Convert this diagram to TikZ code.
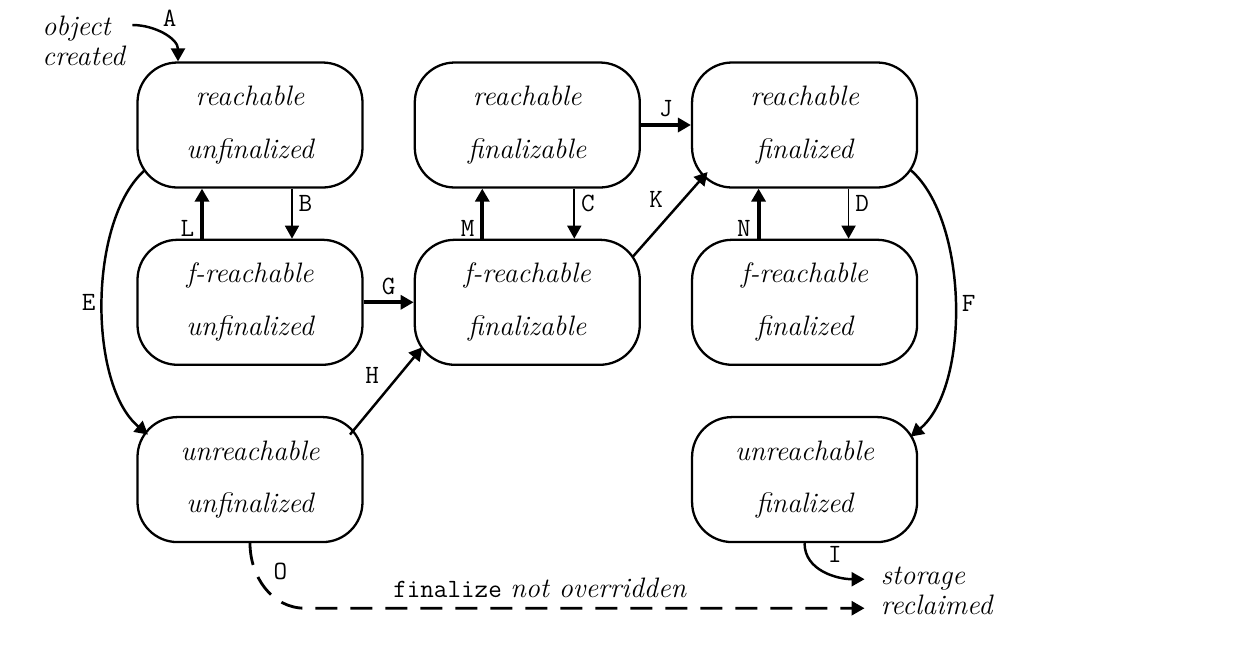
\documentclass[tikz,border=0pt]{standalone}
\usepackage{tikz}
\usetikzlibrary{arrows,arrows.meta,calc,
                shapes,positioning}

\begin{document}
\begin{tikzpicture}
  \tikzset{state/.style = {shape = rectangle, rounded corners = 8mm, minimum width = 45mm, minimum height = 25mm, draw = black, line width = 1.3pt, align = center, font = \itshape\fontsize{16}{30}\selectfont}}
  \tikzset{link/.style = {-{Triangle[length = 2.6mm, width = 2.8mm]}}}
  \tikzset{strong/.style = {link, line width = 2.2pt}}
  \tikzset{weak/.style = {link, line width = 1pt}}
  \tikzset{curve/.style = {link, line width = 1.4pt}}
  \tikzset{dashline/.style = {link, line width = 1.6pt, dash pattern = on 4.4mm off 2.6mm}}
  \tikzset{tag/.style = {font = \ttfamily\fontsize{15}{17}\selectfont}}
  \tikzset{note/.style = {inner sep = 0pt, align = left, font = \itshape\fontsize{16}{17}\selectfont}}

  \fill[white] (0,0) rectangle (24.84,-12.92);

  % the eight states
  \node[state] (RU) at (5.0,-2.5) {reachable\\unfinalized};
  \node[state, below = 1cm of RU] (FU) {f-reachable\\unfinalized};
  \node[state, below = 1cm of FU] (UU) {unreachable\\unfinalized};
  \node[state, right = 1cm of RU] (RZ) {reachable\\finalizable};
  \node[state, below = 1cm of RZ] (FZ) {f-reachable\\finalizable};
  \node[state, right = 1cm of RZ] (RF) {reachable\\finalized};
  \node[state, below = 1cm of RF] (FF) {f-reachable\\finalized};
  \node[state, below = 1cm of FF] (UF) {unreachable\\finalized};

  % start and end
  \node[note, anchor = west] (created) at (0.84,-0.82) {object\\created};
  \node[note, anchor = west] (reclaimed) at ([shift = {(1.52,-0.96)}]UF.south) {storage\\reclaimed};
  \coordinate (turn) at ([shift = {(1.1,-1.3)}]UU.south);

  % transitions
  \draw[curve] ([shift = {(0.14,0.32)}]created.east) to[out = 0, in = 90]
    node[tag, pos = 0.4, above right = -2pt] {A} ([xshift = -1.44cm]RU.north);
  \draw[weak] ([xshift = 0.84cm]RU.south) -- ([xshift = 0.84cm]FU.north) node[tag, pos = 0.3, right] {B};
  \draw[strong] ([xshift = -0.96cm]FU.north) -- ([xshift = -0.96cm]RU.south) node[tag, pos = 0.2, left] {L};
  \draw[weak] ([xshift = 0.94cm]RZ.south) -- ([xshift = 0.94cm]FZ.north) node[tag, pos = 0.3, right] {C};
  \draw[strong] ([xshift = -0.9cm]FZ.north) -- ([xshift = -0.9cm]RZ.south) node[tag, pos = 0.2, left] {M};
  \draw[weak] ([xshift = 0.88cm]RF.south) -- ([xshift = 0.88cm]FF.north) node[tag, pos = 0.3, right] {D};
  \draw[strong] ([xshift = -0.92cm]FF.north) -- ([xshift = -0.92cm]RF.south) node[tag, pos = 0.2, left] {N};
  \draw[strong] (FU.east) -- (FZ.west) node[tag, midway, above] {G};
  \draw[strong] (RZ.east) -- (RF.west) node[tag, midway, above] {J};
  \draw[curve] ([shift = {(2.0,0.9)}]UU.center) -- ([shift = {(-2.1,-0.9)}]FZ.center)
    node[tag, midway, above left = 0pt] {H};
  \draw[curve] ([shift = {(2.1,0.9)}]FZ.center) -- ([shift = {(-1.94,-0.94)}]RF.center)
    node[tag, midway, above left = 0pt] {K};
  \draw[curve] ([shift = {(-2.1,-0.9)}]RU.center) .. controls +(-1.14,-1.0) and +(-1.2,1.0) .. ([shift = {(-2.04,0.9)}]UU.center)
    node[tag, midway, left] {E};
  \draw[curve] ([shift = {(2.12,-0.9)}]RF.center) .. controls +(1.16,-1.0) and +(1.2,1.0) .. ([shift = {(2.12,0.86)}]UF.center)
    node[tag, midway, right] {F};
  \draw[curve] (UF.south) to[out = -90, in = 180]
    node[tag, pos = 0.45, above right = 0pt] {I} ([shift = {(-0.32,0.24)}]reclaimed.west);
  \draw[dashline] (UU.south) to[out = -90, in = 180] node[tag, pos = 0.5, above right = 1pt] {O} (turn)
    -- ([shift = {(-0.32,-0.34)}]reclaimed.west)
    node[pos = 0.42, above = 2pt, font = \fontsize{16}{17}\selectfont] {{\ttfamily\fontsize{15}{17}\selectfont finalize} \textit{not overridden}};

\end{tikzpicture}
\end{document}
